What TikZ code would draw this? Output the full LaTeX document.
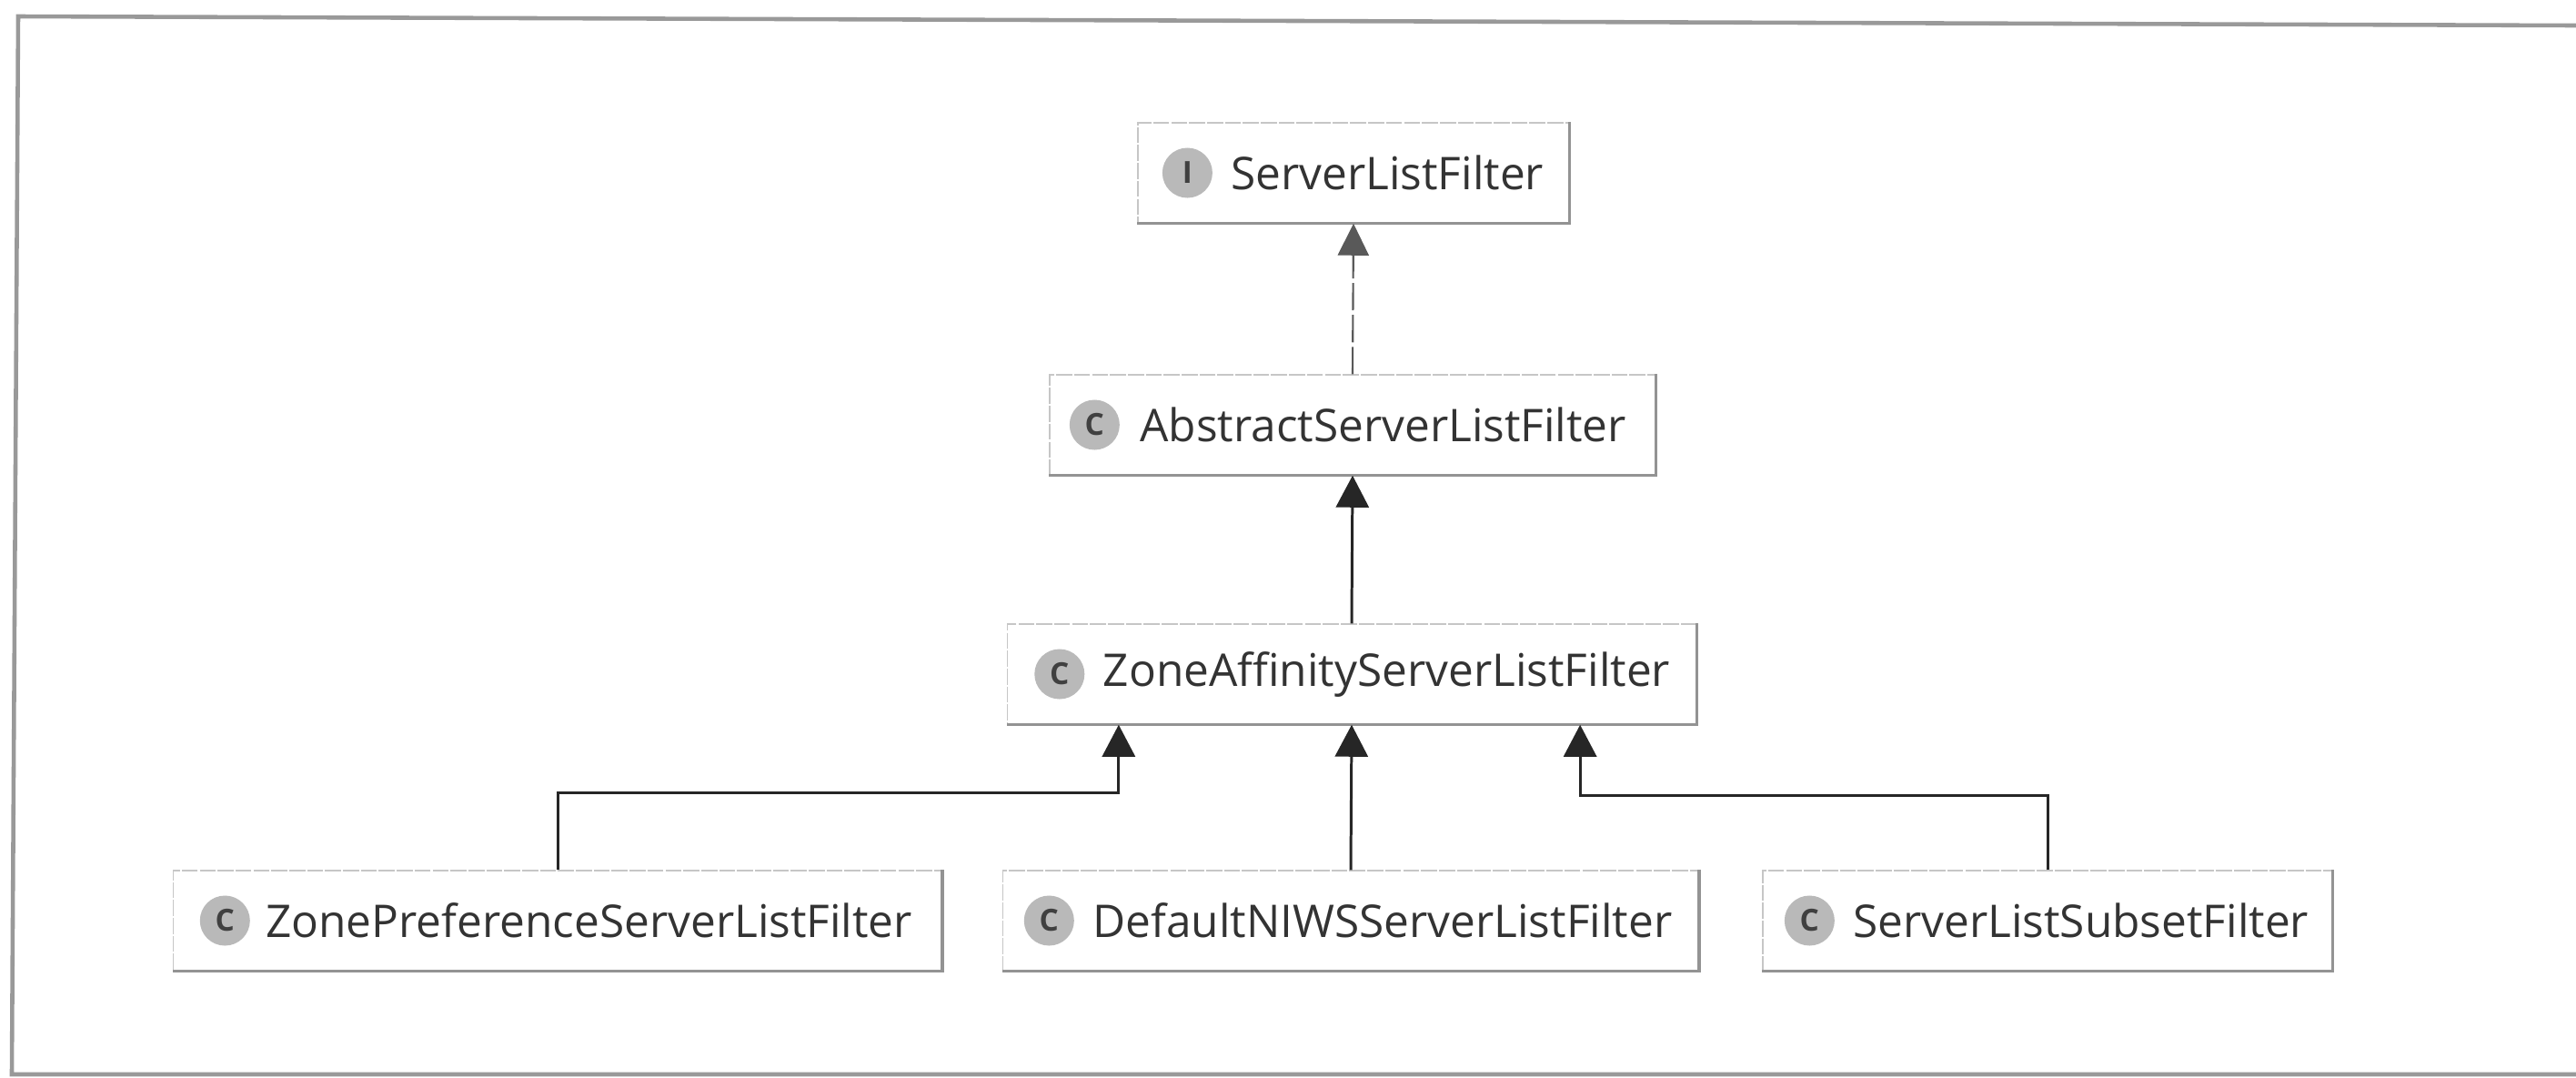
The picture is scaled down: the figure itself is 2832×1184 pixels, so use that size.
\documentclass[tikz,border=0pt]{standalone}
\usepackage{fontspec}
\setmainfont[Ligatures=NoCommon]{Open Sans}
\usepackage{tikz}
\usetikzlibrary{arrows.meta,positioning}

\begin{document}
\begin{tikzpicture}[x=0.01cm,y=-0.01cm,
  classbox/.style={draw=gray!45,line width=0.4pt,dash pattern=on 5pt off 0.6pt,inner sep=0pt,minimum height=1.1cm},
  classedge/.style={draw=gray!85,line width=0.9pt},
  classicon/.style={circle,fill=gray!55,inner sep=0pt,minimum size=0.55cm,font=\fontsize{9.5}{9.5}\selectfont,text=black!75},
  classname/.style={inner sep=0pt,font=\fontsize{14.1}{17}\selectfont,text=black!80},
  extendsarrow/.style={-{Triangle[width=0.36cm,length=0.35cm,fill=black!85]},line width=0.85pt,draw=black!85},
  implementsarrow/.style={-{Triangle[width=0.34cm,length=0.35cm,fill=black!65]},line width=0.6pt,draw=black!65,dash pattern=on 0.3cm off 0.05cm}]
\useasboundingbox (0,0) rectangle (2832,1184);
\draw[gray!80,line width=1.3pt] (2832,28) -- (20,18) -- (13,1181) -- (2832,1181);

\node[classbox,minimum width=4.74cm] (server) at (1488,190) {};
\node[classbox,minimum width=6.66cm] (abstract) at (1487,467) {};
\node[classbox,minimum width=7.57cm] (zone) at (1486,741) {};
\node[classbox,minimum width=8.44cm] (pref) at (613,1012) {};
\node[classbox,minimum width=7.64cm] (default) at (1485,1012) {};
\node[classbox,minimum width=6.26cm] (subset) at (2251,1012) {};

\draw[classedge] (server.north east) -- (server.south east) -- (server.south west);
\draw[classedge] (abstract.north east) -- (abstract.south east) -- (abstract.south west);
\draw[classedge] (zone.north east) -- (zone.south east) -- (zone.south west);
\draw[classedge] (pref.north east) -- (pref.south east) -- (pref.south west);
\draw[classedge] (default.north east) -- (default.south east) -- (default.south west);
\draw[classedge] (subset.north east) -- (subset.south east) -- (subset.south west);

\node[classicon,right=0.27cm of server.west] (servericon) {\textbf{I}};
\node[classicon,right=0.22cm of abstract.west] (abstracticon) {\textbf{C}};
\node[classicon,right=0.30cm of zone.west] (zoneicon) {\textbf{C}};
\node[classicon,right=0.29cm of pref.west] (preficon) {\textbf{C}};
\node[classicon,right=0.23cm of default.west] (defaulticon) {\textbf{C}};
\node[classicon,right=0.24cm of subset.west] (subseticon) {\textbf{C}};

\node[classname,right=0.19cm of servericon] (servername) {ServerListFilter};
\node[classname,right=0.21cm of abstracticon] (abstractname) {AbstractServerListFilter};
\node[classname,right=0.19cm of zoneicon] (zonename) {ZoneAffinityServerListFilter};
\node[classname,right=0.16cm of preficon] (prefname) {ZonePreferenceServerListFilter};
\node[classname,right=0.19cm of defaulticon] (defaultname) {DefaultNIWSServerListFilter};
\node[classname,right=0.19cm of subseticon] (subsetname) {ServerListSubsetFilter};

\draw[implementsarrow] (abstract.north) -- (server.south);
\draw[extendsarrow] (zone.north) -- (abstract.south);
\draw[extendsarrow] (default.north) -- (zone.south);
\draw[extendsarrow] (pref.north) -- ++(0,0.85cm) -| ([xshift=-2.56cm]zone.south);
\draw[extendsarrow] (subset.north) -- ++(0,0.82cm) -| ([xshift=2.51cm]zone.south);
\end{tikzpicture}
\end{document}
